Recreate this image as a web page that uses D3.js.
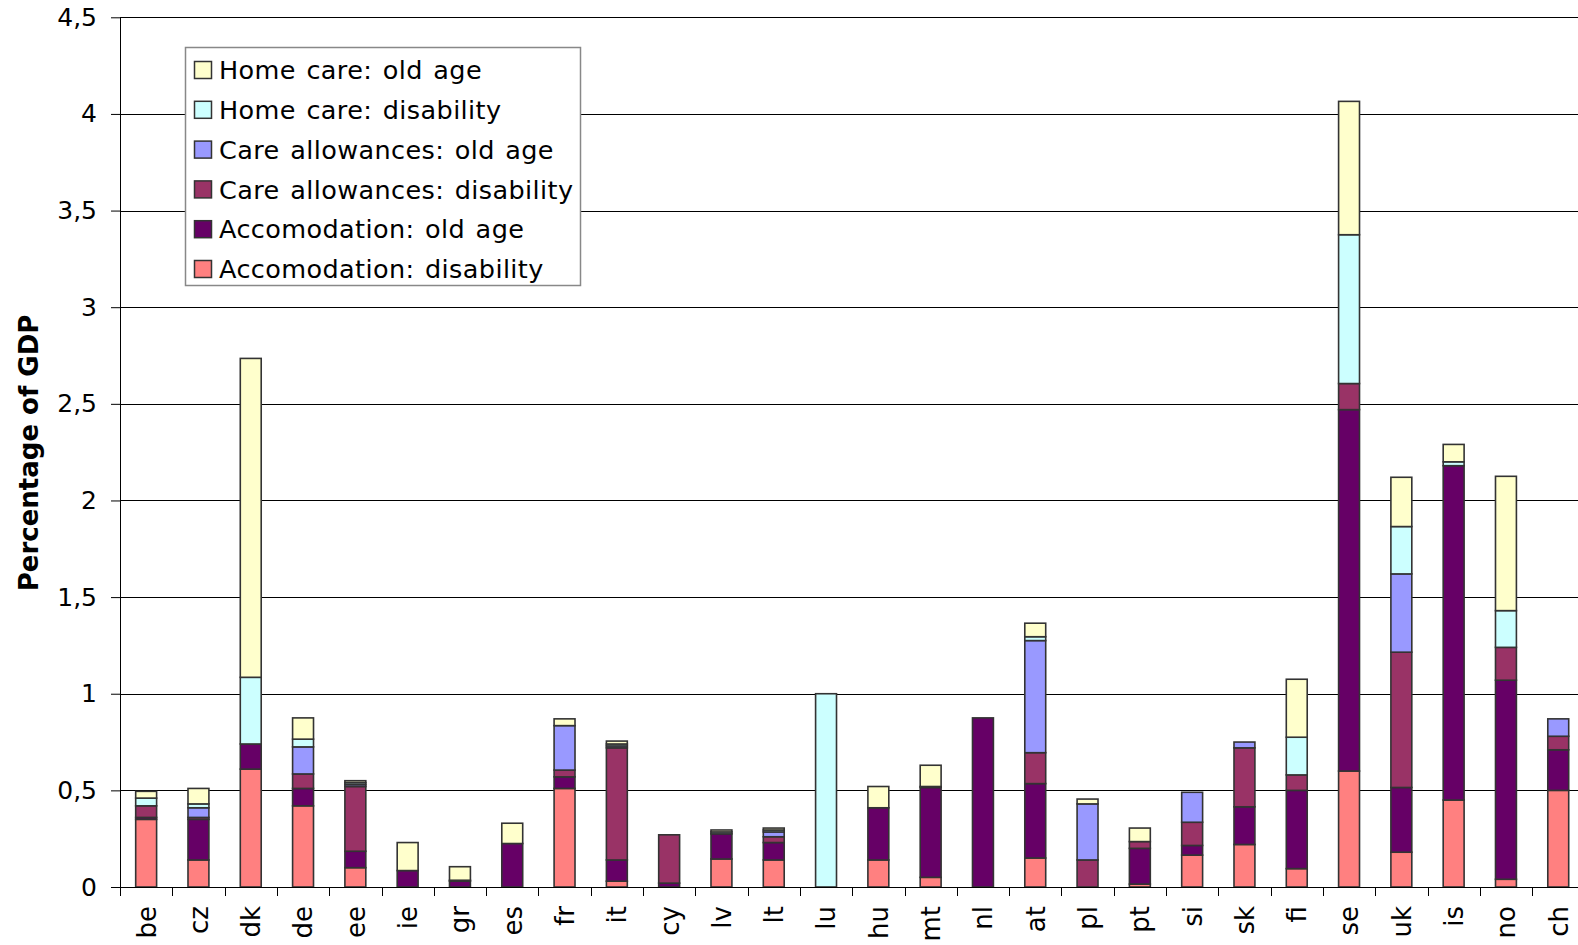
<!DOCTYPE html>
<html>
<head>
<meta charset="utf-8">
<script src="https://cdn.jsdelivr.net/npm/d3@7"></script>
<style>
  html, body { margin: 0; padding: 0; background: #fff; }
  svg { display: block; font-family: "DejaVu Sans", Verdana, sans-serif; }
</style>
</head>
<body>
<svg id="chart" width="1578" height="945"></svg>
<script>
// Long-term care spending by country, percentage of GDP
const categories = ["be","cz","dk","de","ee","ie","gr","es","fr","it","cy","lv","lt","lu",
                    "hu","mt","nl","at","pl","pt","si","sk","fi","se","uk","is","no","ch"];

const accomodationDisability = [0.35,0.14,0.61,0.42,0.10,0,0,0,0.51,0.03,0,0.145,0.14,0,
                                0.14,0.05,0,0.15,0,0.015,0.165,0.22,0.095,0.60,0.18,0.45,0.04,0.50];
const accomodationOldAge    = [0.01,0.21,0.13,0.09,0.085,0.085,0.03,0.225,0.06,0.11,0.02,0.13,0.09,0,
                                0.27,0.465,0.875,0.385,0,0.185,0.05,0.195,0.405,1.87,0.335,1.73,1.03,0.21];
const careAllowDisability   = [0.06,0.01,0,0.075,0.335,0,0.005,0,0.035,0.58,0.25,0,0.03,0,
                                0,0.005,0,0.16,0.14,0.035,0.12,0.305,0.08,0.135,0.70,0,0.17,0.07];
const careAllowOldAge       = [0,0.05,0,0.14,0.01,0,0,0,0.23,0.01,0,0,0.025,0,
                                0,0,0,0.58,0.29,0,0.155,0.03,0,0,0.405,0,0,0.09];
const homeCareDisability    = [0.04,0.02,0.345,0.04,0.01,0,0,0,0,0.01,0,0.01,0.01,1.0,
                                0,0,0,0.02,0,0,0,0,0.195,0.77,0.245,0.02,0.19,0];
const homeCareOldAge        = [0.035,0.08,1.65,0.11,0.01,0.145,0.07,0.105,0.035,0.015,0,0.01,0.01,0,
                                0.11,0.11,0,0.07,0.025,0.07,0,0,0.30,0.69,0.255,0.09,0.695,0];

// Stack order, bottom to top
const seriesNames = ["Accomodation: disability","Accomodation: old age","Care allowances: disability",
                     "Care allowances: old age","Home care: disability","Home care: old age"];
const seriesValues = [accomodationDisability, accomodationOldAge, careAllowDisability,
                      careAllowOldAge, homeCareDisability, homeCareOldAge];
const seriesColors = ["#FF8080","#660066","#993366","#9999FF","#CCFFFF","#FFFFCC"];

const yTicks = [0,0.5,1,1.5,2,2.5,3,3.5,4,4.5];

const svg = d3.select("#chart");
const plotLeft = 120, plotRight = 1584.4, plotTop = 17.3, plotBottom = 887;

const x = d3.scaleBand().domain(categories).range([plotLeft, plotRight]).paddingInner(0).paddingOuter(0);
const y = d3.scaleLinear().domain([0, 4.5]).range([plotBottom, plotTop]);

const rows = categories.map((c, i) => {
  const r = { cat: c };
  seriesNames.forEach((s, k) => r[s] = seriesValues[k][i]);
  return r;
});
const stacked = d3.stack().keys(seriesNames)(rows);

// gridlines
svg.append("g").selectAll("line").data(yTicks.filter(t => t > 0)).join("line")
  .attr("x1", plotLeft).attr("x2", 1578)
  .attr("y1", d => Math.round(y(d)) + 0.5).attr("y2", d => Math.round(y(d)) + 0.5)
  .attr("stroke", "#000").attr("stroke-width", 1);

// bars
const barW = x.bandwidth() * 0.4;
svg.append("g").selectAll("g").data(stacked).join("g")
  .attr("fill", (d, i) => seriesColors[i])
  .selectAll("rect").data(d => d.filter(p => p[1] - p[0] > 0)).join("rect")
  .attr("x", d => x(d.data.cat) + (x.bandwidth() - barW) / 2)
  .attr("width", barW)
  .attr("y", d => y(d[1]))
  .attr("height", d => y(d[0]) - y(d[1]))
  .attr("stroke", "#333").attr("stroke-width", 1.6);

// y axis
const yAxis = d3.axisLeft(y).tickValues(yTicks).tickSize(9).tickPadding(14)
  .tickFormat(d => d3.format("")(d).replace(".", ","));
const gy = svg.append("g").attr("transform", `translate(${plotLeft},0)`).call(yAxis);
gy.select(".domain").attr("stroke", "#000").attr("d", `M0.5,${plotTop}V${plotBottom}`);
gy.selectAll(".tick line").attr("stroke", "#000");
gy.selectAll(".tick text").attr("font-size", 25).attr("fill", "#000")
  .attr("font-family", "DejaVu Sans, Verdana, sans-serif");

// x axis: baseline, tick marks between categories, rotated labels
svg.append("line").attr("x1", plotLeft).attr("x2", 1578)
  .attr("y1", plotBottom + 0.5).attr("y2", plotBottom + 0.5).attr("stroke", "#000");
svg.append("g").selectAll("line").data(categories).join("line")
  .attr("x1", d => Math.round(x(d)) + 0.5).attr("x2", d => Math.round(x(d)) + 0.5)
  .attr("y1", plotBottom).attr("y2", plotBottom + 9).attr("stroke", "#000");
svg.append("g").selectAll("text").data(categories).join("text")
  .attr("transform", d => `translate(${x(d) + x.bandwidth() / 2},${plotBottom + 19}) rotate(-90)`)
  .attr("text-anchor", "end").attr("dy", "0.36em")
  .attr("font-size", 26).attr("fill", "#000")
  .text(d => d);

// y axis title
svg.append("text")
  .attr("transform", `translate(29,453) rotate(-90)`)
  .attr("text-anchor", "middle").attr("dy", "0.36em")
  .attr("font-size", 26).attr("font-weight", "bold").attr("fill", "#000")
  .text("Percentage of GDP");

// legend
const legend = svg.append("g");
legend.append("rect").attr("x", 185.5).attr("y", 47.5).attr("width", 395).attr("height", 238)
  .attr("fill", "#fff").attr("stroke", "#888").attr("stroke-width", 1.5);
const legendOrder = d3.range(seriesNames.length).reverse();
const items = legend.selectAll("g").data(legendOrder).join("g")
  .attr("transform", (d, i) => `translate(194,${70 + i * 39.8})`);
items.append("rect").attr("x", 0.5).attr("y", -8.5).attr("width", 17).attr("height", 17)
  .attr("fill", d => seriesColors[d]).attr("stroke", "#333").attr("stroke-width", 1.5);
items.append("text").attr("x", 25).attr("dy", "0.36em")
  .attr("font-size", 25.5).attr("letter-spacing", 0.4).attr("word-spacing", 2)
  .attr("fill", "#000")
  .text(d => seriesNames[d]);
</script>
</body>
</html>
